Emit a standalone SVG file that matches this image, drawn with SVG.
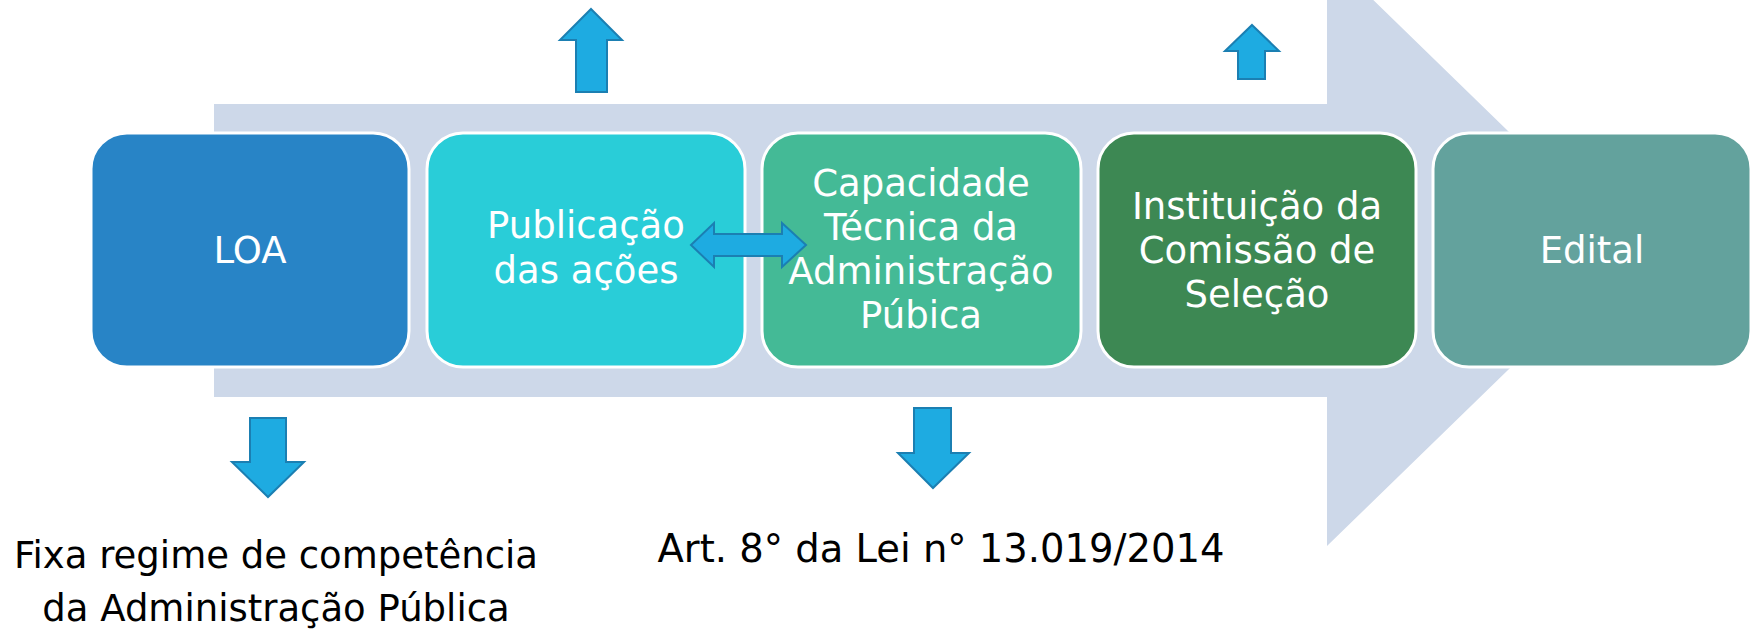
<svg xmlns="http://www.w3.org/2000/svg" width="1754" height="630" viewBox="0 0 1754 630">
<style>
.box{stroke:#ffffff;stroke-width:3}
.bt{font-family:"DejaVu Sans",sans-serif;font-size:37px;fill:#ffffff;text-anchor:middle}
.lt{font-family:"DejaVu Sans",sans-serif;font-size:37px;fill:#000000;text-anchor:middle}
.arr{fill:#1EABE1;stroke:#1B7FB2;stroke-width:2;stroke-linejoin:miter}
</style>
<rect width="1754" height="630" fill="#ffffff"/>
<g id="backbone">
<polygon points="214,104 1327,104 1327,-45 1631,250.5 1327,546 1327,397 214,397" fill="#CDD8E9"/>
</g>
<g id="loa">
<rect class="box" x="91" y="133" width="318" height="234" rx="36" fill="#2884C6"/>
<text class="bt" x="250" y="263">LOA</text>
</g>
<g id="publicacao">
<rect class="box" x="427" y="133" width="318" height="234" rx="36" fill="#29CDD8"/>
<text class="bt" x="586" y="238">Publicação</text>
<text class="bt" x="586" y="283">das ações</text>
</g>
<g id="capacidade">
<rect class="box" x="762" y="133" width="319" height="234" rx="36" fill="#44BA96"/>
<text class="bt" x="921" y="196">Capacidade</text>
<text class="bt" x="921" y="240">Técnica da</text>
<text class="bt" x="921" y="284">Administração</text>
<text class="bt" x="921" y="328">Púbica</text>
</g>
<g id="instituicao">
<rect class="box" x="1098" y="133" width="318" height="234" rx="36" fill="#3D8853"/>
<text class="bt" x="1257" y="219">Instituição da</text>
<text class="bt" x="1257" y="263">Comissão de</text>
<text class="bt" x="1257" y="307">Seleção</text>
</g>
<g id="edital">
<rect class="box" x="1433" y="133" width="318" height="234" rx="36" fill="#63A29D"/>
<text class="bt" x="1592" y="263">Edital</text>
</g>
<g id="nota-loa">
<text class="lt" x="276" y="568">Fixa regime de competência</text>
<text class="lt" x="276" y="621">da Administração Pública</text>
</g>
<g id="nota-art">
<text class="lt" x="941" y="562" style="font-size:38.5px">Art. 8° da Lei n° 13.019/2014</text>
</g>
<g id="connectors">
<polygon class="arr" points="691,245 714,223 714,234 782,234 782,223 806,245 782,267 782,256 714,256 714,267"/>
<polygon class="arr" points="591,9 622,40 607,40 607,92 576,92 576,40 560,40"/>
<polygon class="arr" points="1252,25 1279,51 1265,51 1265,79 1238,79 1238,51 1225,51"/>
<polygon class="arr" points="250,418 286,418 286,462 304,462 268,497 232,462 250,462"/>
<polygon class="arr" points="914,408 951,408 951,453 969,453 933,488 898,453 914,453"/>
</g>
</svg>
